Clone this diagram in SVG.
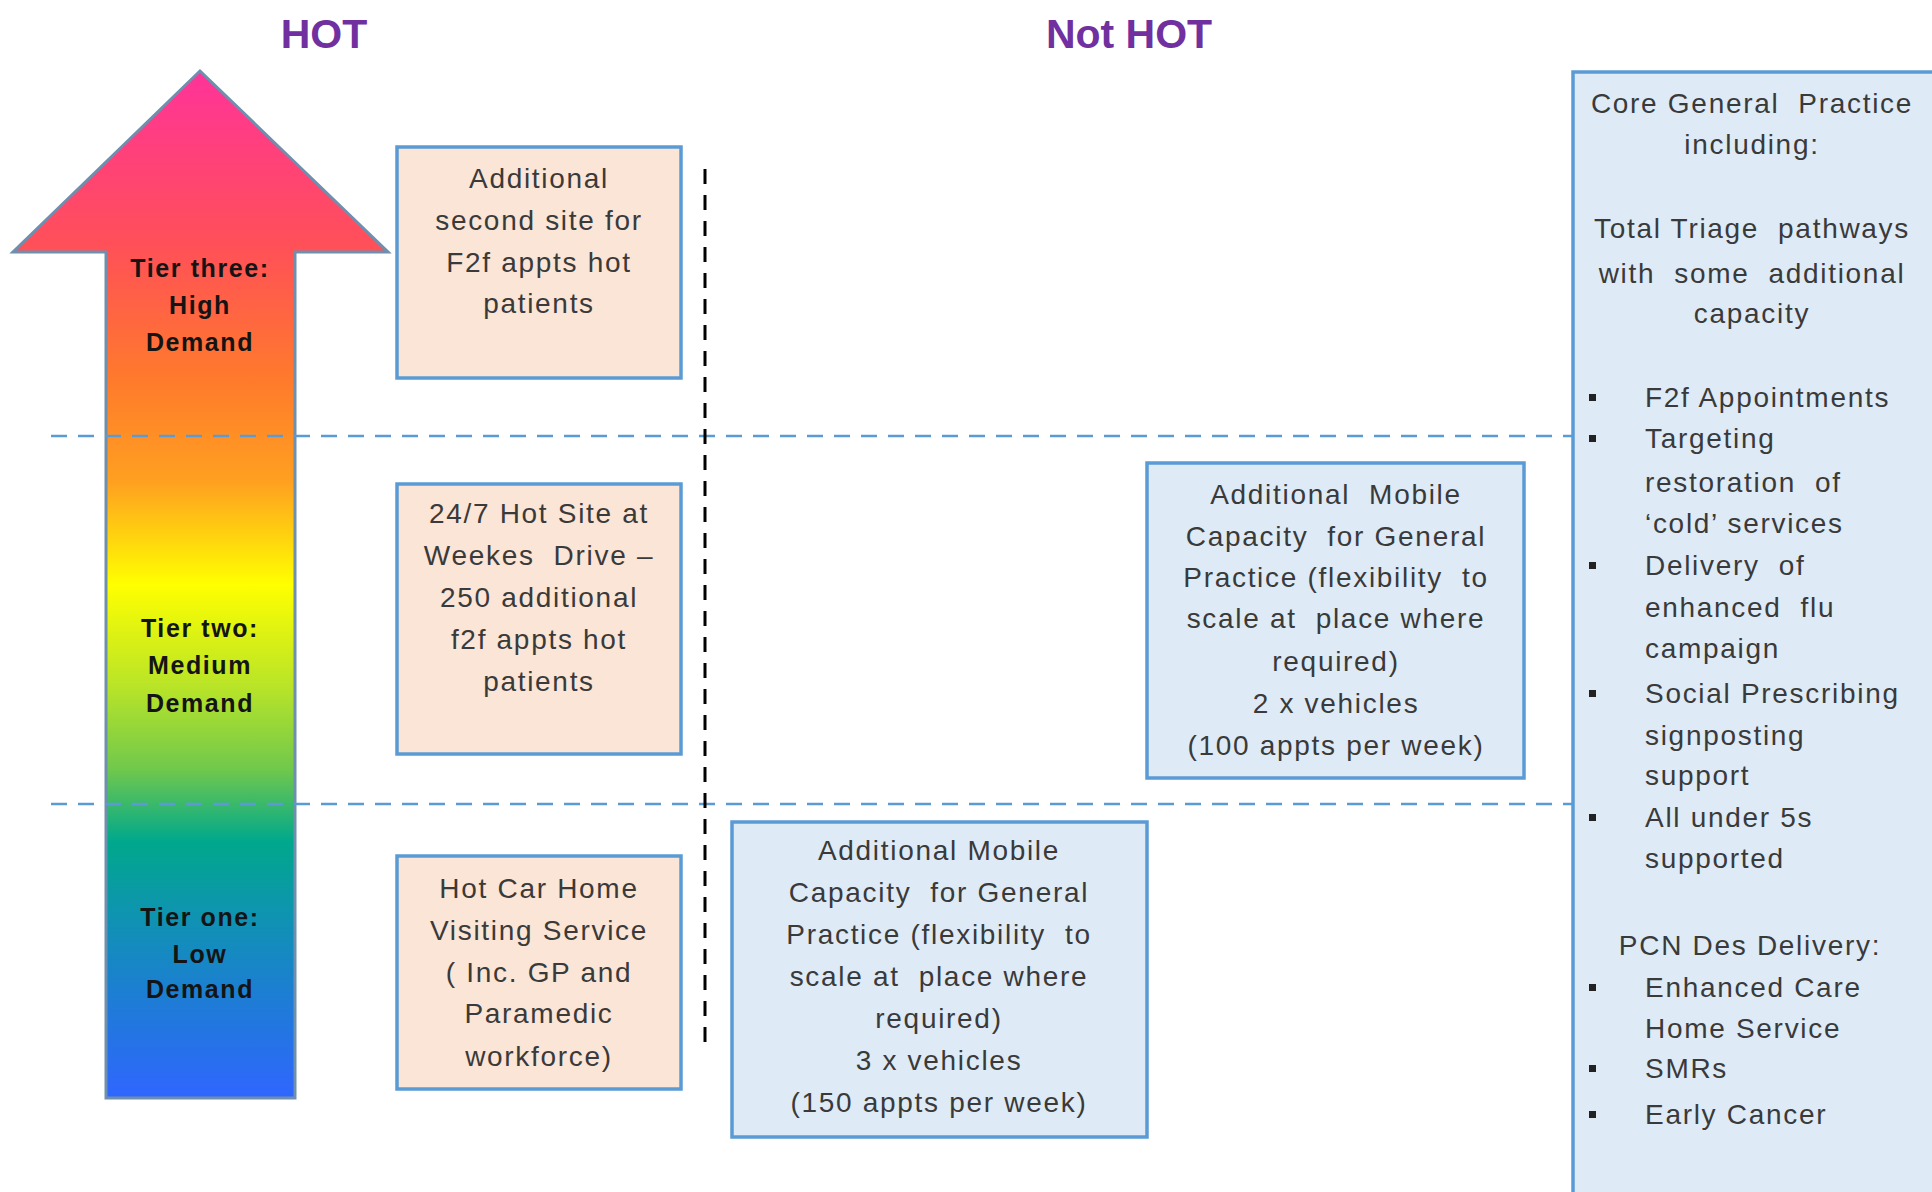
<svg xmlns="http://www.w3.org/2000/svg" width="1932" height="1192" viewBox="0 0 1932 1192">
<defs>
<linearGradient id="heat" gradientUnits="userSpaceOnUse" x1="0" y1="71" x2="0" y2="1098">
<stop offset="0" stop-color="#ff3399"/>
<stop offset="0.17" stop-color="#ff5058"/>
<stop offset="0.30" stop-color="#ff7a2c"/>
<stop offset="0.40" stop-color="#ffa020"/>
<stop offset="0.50" stop-color="#ffff00"/>
<stop offset="0.60" stop-color="#b8e428"/>
<stop offset="0.68" stop-color="#70c84c"/>
<stop offset="0.75" stop-color="#00a88c"/>
<stop offset="0.82" stop-color="#0e94b0"/>
<stop offset="0.91" stop-color="#1f7bd8"/>
<stop offset="1" stop-color="#2f66ff"/>
</linearGradient>
</defs>
<style>
.title{font-family:"Liberation Sans",Arial,sans-serif;font-weight:bold;font-size:41px;fill:#7030a0;text-anchor:middle}
.tier{font-family:"Liberation Sans",Arial,sans-serif;font-weight:bold;font-size:25px;letter-spacing:1.6px;fill:#141414;text-anchor:middle}
.t{font-family:"Liberation Sans",Arial,sans-serif;font-size:28px;letter-spacing:1.7px;fill:#3a3a3a;white-space:pre}
.c{text-anchor:middle}
.peach{fill:#fbe5d6;stroke:#5b9bd5;stroke-width:3.5}
.blue{fill:#deebf7;stroke:#5b9bd5;stroke-width:3.5}
.dash{stroke:#5b9bd5;stroke-width:2.5;stroke-dasharray:16 11;fill:none}
.vdot{stroke:#000;stroke-width:3;stroke-dasharray:15 11;fill:none}
.bul{fill:#222}
</style>
<rect width="1932" height="1192" fill="#ffffff"/>

<text class="title" x="324" y="48">HOT</text>
<text class="title" x="1129" y="48">Not HOT</text>

<g id="arrow">
<polygon points="200,71 388,252 295,252 295,1098 106,1098 106,252 13,252" fill="url(#heat)" stroke="#6f8fae" stroke-width="3" stroke-linejoin="miter"/>
<text class="tier" x="200" y="277">Tier three:</text>
<text class="tier" x="200" y="314">High</text>
<text class="tier" x="200" y="351">Demand</text>
<text class="tier" x="200" y="637">Tier two:</text>
<text class="tier" x="200" y="674">Medium</text>
<text class="tier" x="200" y="712">Demand</text>
<text class="tier" x="200" y="926">Tier one:</text>
<text class="tier" x="200" y="963">Low</text>
<text class="tier" x="200" y="998">Demand</text>
</g>

<g id="connectors">
<line class="dash" x1="51" y1="436" x2="1573" y2="436"/>
<line class="dash" x1="51" y1="804" x2="1573" y2="804"/>
<line class="vdot" x1="705" y1="169" x2="705" y2="1047"/>
</g>

<g id="box-second-site">
<rect class="peach" x="397" y="147" width="284" height="231"/>
<text class="t c" x="539" y="188">Additional</text>
<text class="t c" x="539" y="230">second site for</text>
<text class="t c" x="539" y="272">F2f appts hot</text>
<text class="t c" x="539" y="313">patients</text>
</g>

<g id="box-hot-site">
<rect class="peach" x="397" y="484" width="284" height="270"/>
<text class="t c" x="539" y="523">24/7 Hot Site at</text>
<text class="t c" x="539" y="565">Weekes  Drive –</text>
<text class="t c" x="539" y="607">250 additional</text>
<text class="t c" x="539" y="649">f2f appts hot</text>
<text class="t c" x="539" y="691">patients</text>
</g>

<g id="box-hot-car">
<rect class="peach" x="397" y="856" width="284" height="233"/>
<text class="t c" x="539" y="898">Hot Car Home</text>
<text class="t c" x="539" y="940">Visiting Service</text>
<text class="t c" x="539" y="982">( Inc. GP and</text>
<text class="t c" x="539" y="1023">Paramedic</text>
<text class="t c" x="539" y="1066">workforce)</text>
</g>

<g id="box-mobile-3">
<rect class="blue" x="732" y="822" width="415" height="315"/>
<text class="t c" x="939" y="860">Additional Mobile</text>
<text class="t c" x="939" y="902">Capacity  for General</text>
<text class="t c" x="939" y="944">Practice (flexibility  to</text>
<text class="t c" x="939" y="986">scale at  place where</text>
<text class="t c" x="939" y="1028">required)</text>
<text class="t c" x="939" y="1070">3 x vehicles</text>
<text class="t c" x="939" y="1112">(150 appts per week)</text>
</g>

<g id="box-mobile-2">
<rect class="blue" x="1147" y="463" width="377" height="315"/>
<text class="t c" x="1336" y="504">Additional  Mobile</text>
<text class="t c" x="1336" y="546">Capacity  for General</text>
<text class="t c" x="1336" y="587">Practice (flexibility  to</text>
<text class="t c" x="1336" y="628">scale at  place where</text>
<text class="t c" x="1336" y="671">required)</text>
<text class="t c" x="1336" y="713">2 x vehicles</text>
<text class="t c" x="1336" y="755">(100 appts per week)</text>
</g>

<g id="box-core">
<rect class="blue" x="1573" y="72" width="372" height="1135"/>
<text class="t c" x="1752" y="113">Core General  Practice</text>
<text class="t c" x="1752" y="154">including:</text>
<text class="t c" x="1752" y="238">Total Triage  pathways</text>
<text class="t c" x="1752" y="283">with  some  additional</text>
<text class="t c" x="1752" y="323">capacity</text>
<rect class="bul" x="1589" y="394" width="7" height="7"/>
<text class="t" x="1645" y="407">F2f Appointments</text>
<rect class="bul" x="1589" y="435" width="7" height="7"/>
<text class="t" x="1645" y="448">Targeting</text>
<text class="t" x="1645" y="492">restoration  of</text>
<text class="t" x="1645" y="533">‘cold’ services</text>
<rect class="bul" x="1589" y="562" width="7" height="7"/>
<text class="t" x="1645" y="575">Delivery  of</text>
<text class="t" x="1645" y="617">enhanced  flu</text>
<text class="t" x="1645" y="658">campaign</text>
<rect class="bul" x="1589" y="690" width="7" height="7"/>
<text class="t" x="1645" y="703">Social Prescribing</text>
<text class="t" x="1645" y="745">signposting</text>
<text class="t" x="1645" y="785">support</text>
<rect class="bul" x="1589" y="814" width="7" height="7"/>
<text class="t" x="1645" y="827">All under 5s</text>
<text class="t" x="1645" y="868">supported</text>
<text class="t c" x="1750" y="955">PCN Des Delivery:</text>
<rect class="bul" x="1589" y="984" width="7" height="7"/>
<text class="t" x="1645" y="997">Enhanced Care</text>
<text class="t" x="1645" y="1038">Home Service</text>
<rect class="bul" x="1589" y="1065" width="7" height="7"/>
<text class="t" x="1645" y="1078">SMRs</text>
<rect class="bul" x="1589" y="1111" width="7" height="7"/>
<text class="t" x="1645" y="1124">Early Cancer</text>
</g>
</svg>
